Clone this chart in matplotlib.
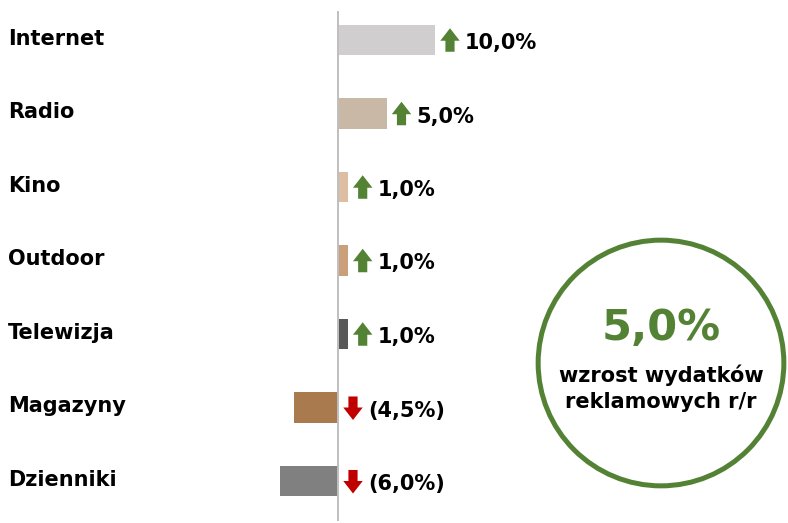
import matplotlib
matplotlib.use("Agg")
import matplotlib.pyplot as plt
from matplotlib.patches import Circle
from matplotlib.transforms import offset_copy, blended_transform_factory

categories = ["Internet", "Radio", "Kino", "Outdoor", "Telewizja", "Magazyny", "Dzienniki"]
values = [10.0, 5.0, 1.0, 1.0, 1.0, -4.5, -6.0]
labels = ["10,0%", "5,0%", "1,0%", "1,0%", "1,0%", "(4,5%)", "(6,0%)"]
colors = ["#D0CECE", "#C9B8A5", "#DDBEA2", "#C9A07A", "#595959", "#AA7A4F", "#808080"]
total_label = "5,0%"
total_text = "wzrost wydatków\nreklamowych r/r"

green = "#548235"
red = "#C00000"

plt.rcParams['font.family'] = ['DejaVu Sans']

fig = plt.figure(figsize=(7.88, 5.23), dpi=100)
ax = fig.add_axes([0, 0, 1, 1])

px_per_unit = 9.7
ax.set_xlim(-338 / px_per_unit, (788 - 338) / px_per_unit)
ax.set_ylim(6 + (523 - 481) / 73.5, -40 / 73.5)
ax.axis("off")

ypos = list(range(len(categories)))
ax.barh(ypos, values, height=0.41, color=colors)
ax.plot([0, 0], [ypos[0] - 0.38, ypos[-1] + 0.53], color="#BFBFBF", lw=1.4)

lab_tr = blended_transform_factory(ax.transAxes, ax.transData)
for y, name in zip(ypos, categories):
    ax.text(0.01, y - 0.02, name, transform=lab_tr, ha="left", va="center",
            fontsize=15, fontweight="bold", color="black")

for y, v, lab in zip(ypos, values, labels):
    x0 = max(v, 0)
    arrow_tr = offset_copy(ax.transData, fig=fig, x=15, y=0, units="dots")
    if v > 0:
        start, end, c = y + 0.16, y - 0.16, green
    else:
        start, end, c = y - 0.15, y + 0.17, red
    ax.annotate("", xy=(x0, end), xycoords=arrow_tr, xytext=(x0, start), textcoords=arrow_tr,
                arrowprops=dict(arrowstyle="simple,head_length=0.45,head_width=0.7,tail_width=0.33",
                                mutation_scale=20, color=c, shrinkA=0, shrinkB=0, lw=0))
    txt_tr = offset_copy(ax.transData, fig=fig, x=30, y=-3, units="dots")
    ax.text(x0, y, lab, transform=txt_tr, ha="left", va="center",
            fontsize=15, fontweight="bold", color="black")

# summary circle
cax = fig.add_axes([535 / 788, 1 - 490 / 523, 252 / 788, 254 / 523])
cax.set_xlim(-1, 1)
cax.set_ylim(-1, 1)
cax.set_aspect("equal")
cax.axis("off")
cax.add_patch(Circle((0, 0), 0.975, fill=False, ec=green, lw=3.6))
cax.text(0, 0.28, total_label, ha="center", va="center", fontsize=31,
         fontweight="bold", color=green)
cax.text(0, -0.2, total_text, ha="center", va="center", fontsize=15,
         fontweight="bold", color="black", linespacing=1.35)

fig.savefig("out.png", dpi=100)
